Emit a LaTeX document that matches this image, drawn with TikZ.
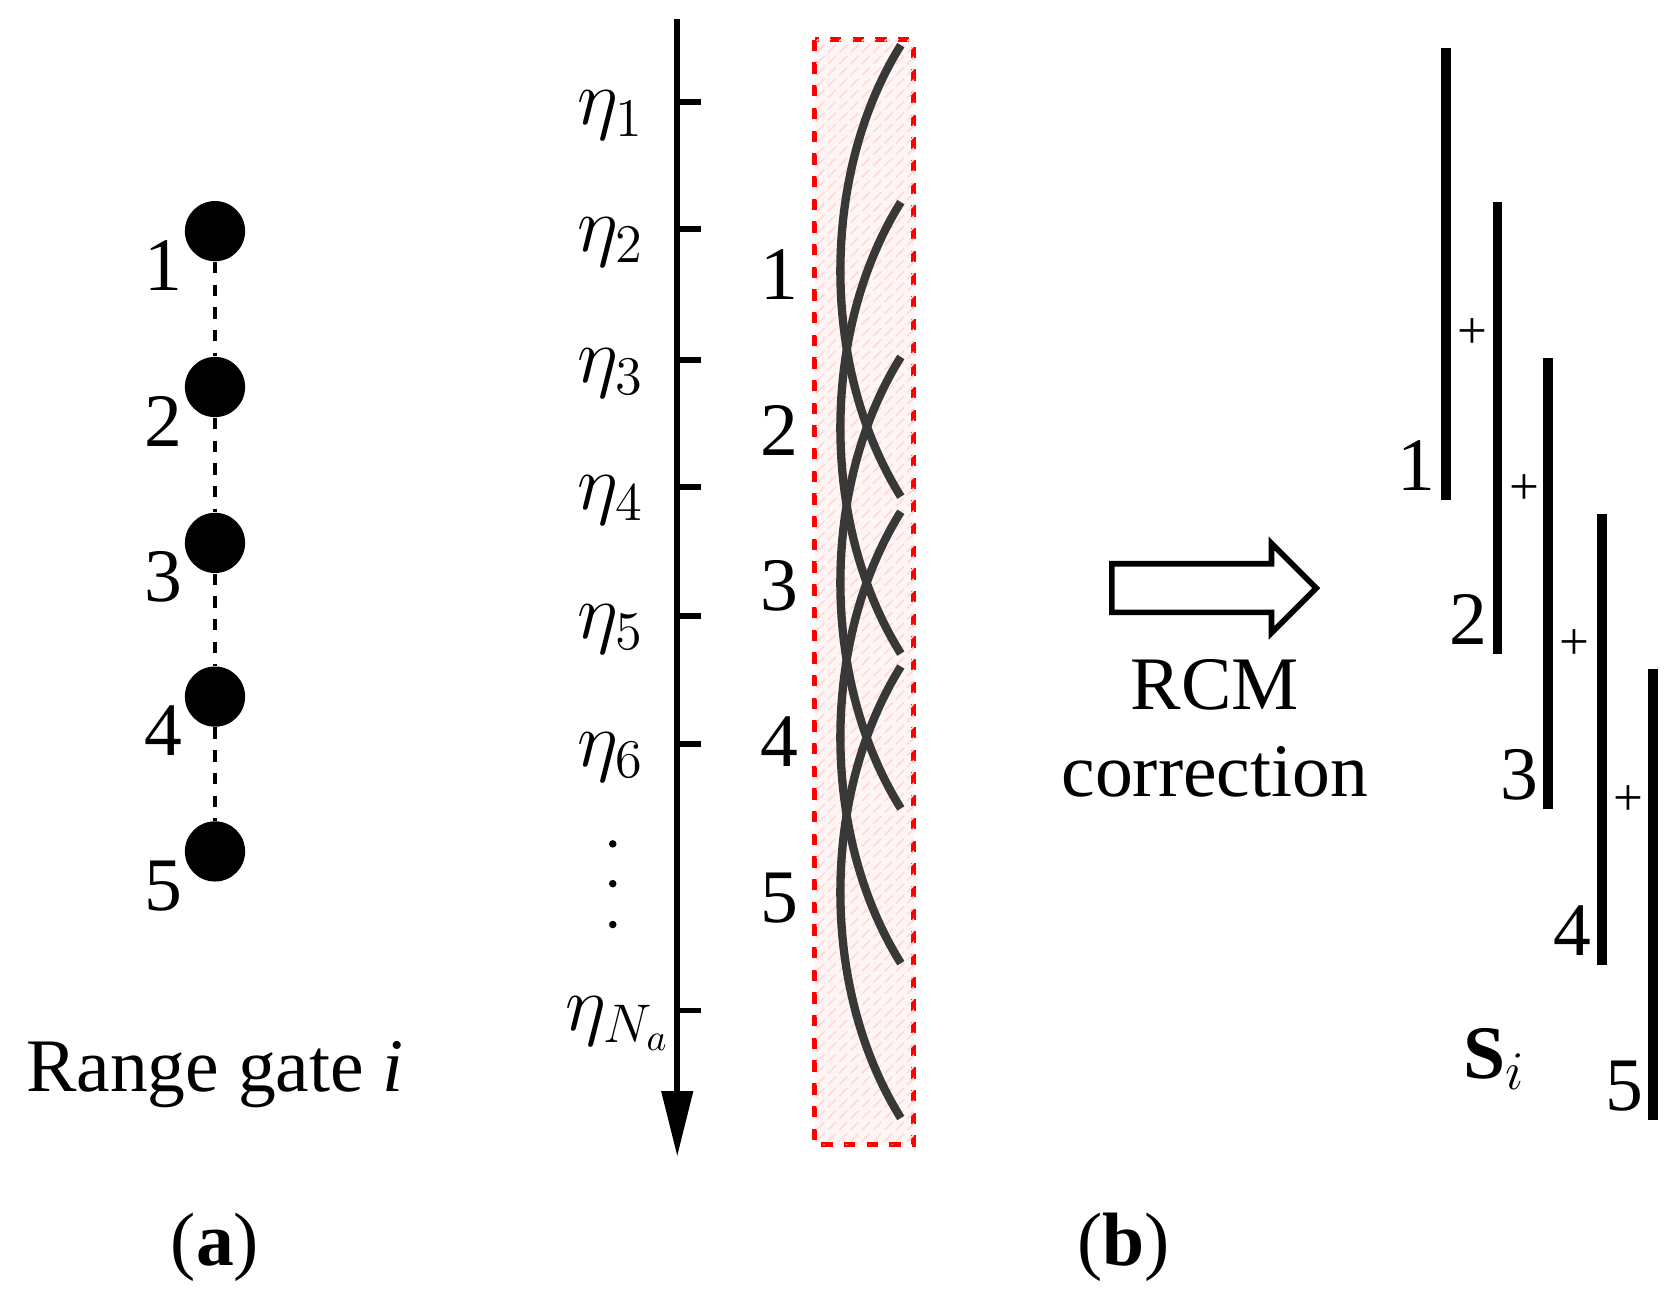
\documentclass[tikz,border=0pt]{standalone}
\usepackage{fontspec}
\setmainfont{Liberation Serif}
\usetikzlibrary{patterns,shapes.arrows}
\begin{document}
\begin{tikzpicture}[x=0.01cm,y=-0.01cm,
  lab/.style={font=\fontsize{20}{24}\selectfont},
  dot/.style={circle,fill=black,minimum size=0.56cm,inner sep=0},
  curve/.style={line width=2.2pt,draw=black!78},
  bar/.style={line width=2.6pt}]
\useasboundingbox (0,0) rectangle (1560,1220);
% (a)
\foreach \i/\y in {1/215,2/360,3/505,4/648,5/792}{
  \node[dot] (d\i) at (200,\y) {};
  \node[lab] (l\i) at (152,\y+32) {\i};
}
\foreach \a/\b in {1/2,2/3,3/4,4/5} \draw[dashed,thick] (d\a) -- (d\b);
\node[lab] (rg) at (200,1000) {Range gate \textit{i}};
\node[lab] (pa) at (200,1160) {(\textbf{a})};
% axis
\coordinate (atop) at (630,18);
\coordinate (abot) at (630,1020);
\draw[line width=1.5pt] (atop) -- (abot);
\fill (615,1015) -- (645,1015) -- (630,1075) -- cycle;
\foreach \y/\t in {95/1,213/2,335/3,453/4,573/5,692/6}{
  \draw[line width=1.5pt] (630,\y) -- (652,\y);
  \node[lab] (e\t) at (568,\y+12) {$\eta_{\t}$};
}
\draw[line width=1.5pt] (630,940) -- (652,940);
\node[lab] (eN) at (575,952) {$\eta_{N_a}$};
\foreach \y in {785,822,860} \fill (570,\y) circle (3.5);
% box
\draw[red,dashed,line width=1.3pt,fill=red!4,postaction={pattern=north east lines,pattern color=red!15}] (758,37) rectangle (850,1065);
\foreach \i/\y in {1/255,2/400,3/545,4/690,5/835} \node[lab] (n\i) at (725,\y) {\i};
\foreach \t in {42,188,332,476,620}
  \draw[curve] (838,\t) .. controls (763,\t+120) and (763,\t+300) .. (838,\t+420);
% arrow
\node[single arrow,draw,line width=1.5pt,minimum height=1.9cm,minimum width=0.78cm,single arrow head extend=0.19cm,inner sep=0.2cm] (arr) at (1118,547) {};
\node[lab] (rcm) at (1130,637) {RCM};
\node[lab] (cor) at (1130,718) {correction};
\node[lab] (pb) at (1045,1160) {(\textbf{b})};
% bars
\foreach \i/\x/\t in {1/1345/45,2/1393/188,3/1440/333,4/1490/478,5/1538/622}{
  \draw[bar] (\x,\t) -- (\x,\t+420);
  \node[lab] (b\i) at (\x-27,\t+388) {\i};
}
\foreach \x/\y in {1370/310,1418/455,1465/600,1515/745} \node[font=\fontsize{14}{16}\selectfont] at (\x,\y) {+};
\node[lab] (S) at (1390,985) {$\mathbf{S}_i$};
\end{tikzpicture}
\end{document}
